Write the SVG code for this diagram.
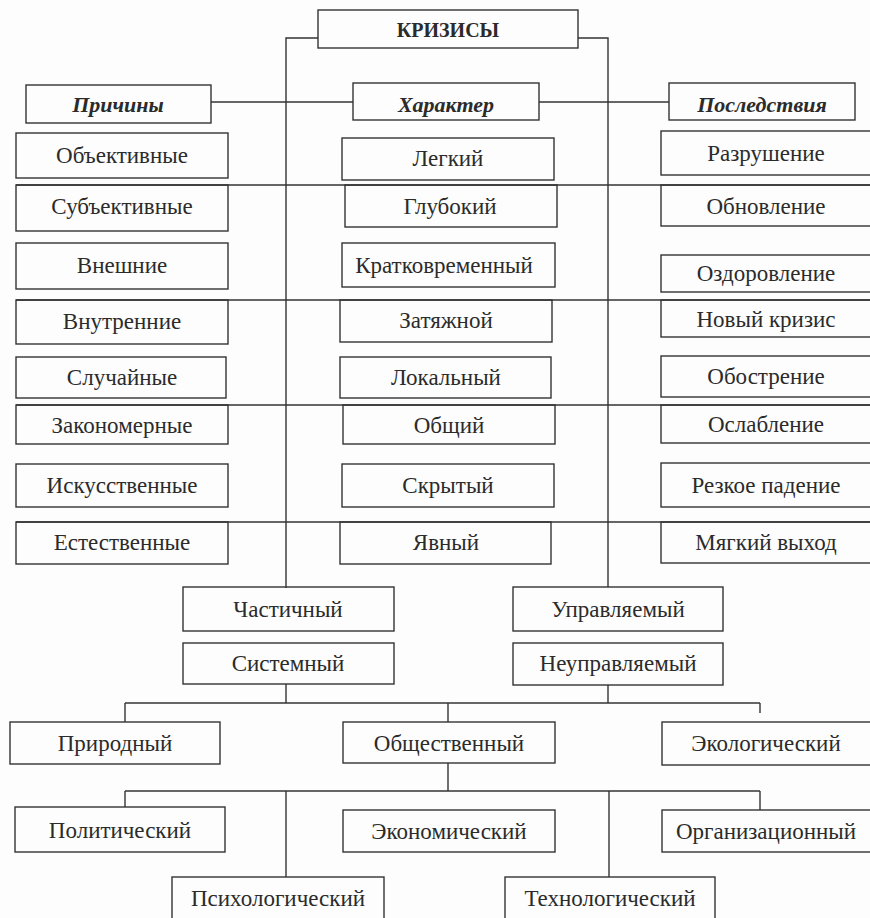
<svg xmlns="http://www.w3.org/2000/svg" width="870" height="918" viewBox="0 0 870 918">
<style>
.bg{fill:#fdfdfd}
.b{fill:none;stroke:#333;stroke-width:1.4}
.c path{fill:none;stroke:#333;stroke-width:1.4}
text{font-family:"Liberation Serif","Times New Roman",serif;fill:#2b2b2b;text-anchor:middle}
.t{font-size:23px}
.h{font-size:22px;font-weight:bold;font-style:italic}
.ttl{font-size:20px;font-weight:bold}
</style>
<rect class="bg" x="0" y="0" width="870" height="918"/>
<g id="connectors" class="c">
<path d="M318,38 H286 V588"/>
<path d="M578,38 H608 V587"/>
<path d="M211,102 H353"/>
<path d="M539,102 H669"/>
<path d="M16,185 H870"/>
<path d="M16,300 H870"/>
<path d="M16,405 H870"/>
<path d="M16,522 H870"/>
<path d="M286,684 V703"/>
<path d="M608,685 V703"/>
<path d="M125,703 H760"/>
<path d="M125,703 V722"/>
<path d="M448,703 V722"/>
<path d="M760,703 V713"/>
<path d="M448,763 V791"/>
<path d="M125,791 H760"/>
<path d="M125,791 V807"/>
<path d="M760,791 V810"/>
<path d="M286,791 V877"/>
<path d="M609,791 V877"/>
</g>
<g id="krizisy"><rect class="b" x="318" y="10" width="260" height="38"/><text class="ttl" x="448" y="37">КРИЗИСЫ</text></g>
<g id="prichiny"><rect class="b" x="26" y="85" width="185" height="38"/><text class="h" x="118" y="112">Причины</text></g>
<g id="harakter"><rect class="b" x="353" y="83" width="186" height="37"/><text class="h" x="446" y="112">Характер</text></g>
<g id="posledstviya"><rect class="b" x="669" y="83" width="186" height="37"/><text class="h" x="762" y="112">Последствия</text></g>

<g id="obektivnye"><rect class="b" x="16" y="133" width="212" height="45"/><text class="t" x="122" y="163">Объективные</text></g>
<g id="subektivnye"><rect class="b" x="16" y="185" width="212" height="46"/><text class="t" x="122" y="214">Субъективные</text></g>
<g id="vneshnie"><rect class="b" x="16" y="243" width="212" height="46"/><text class="t" x="122" y="273">Внешние</text></g>
<g id="vnutrennie"><rect class="b" x="16" y="300" width="212" height="44"/><text class="t" x="122" y="329">Внутренние</text></g>
<g id="sluchainye"><rect class="b" x="16" y="357" width="210" height="41"/><text class="t" x="122" y="385">Случайные</text></g>
<g id="zakonomernye"><rect class="b" x="16" y="405" width="212" height="39"/><text class="t" x="122" y="433">Закономерные</text></g>
<g id="iskusstvennye"><rect class="b" x="16" y="464" width="212" height="43"/><text class="t" x="122" y="493">Искусственные</text></g>
<g id="estestvennye"><rect class="b" x="16" y="522" width="212" height="42"/><text class="t" x="122" y="550">Естественные</text></g>

<g id="legkiy"><rect class="b" x="342" y="138" width="212" height="42"/><text class="t" x="448" y="166">Легкий</text></g>
<g id="glubokiy"><rect class="b" x="345" y="185" width="212" height="42"/><text class="t" x="450" y="214">Глубокий</text></g>
<g id="kratkovremennyi"><rect class="b" x="342" y="243" width="213" height="44"/><text class="t" x="444" y="273">Кратковременный</text></g>
<g id="zatyazhnoi"><rect class="b" x="340" y="300" width="212" height="42"/><text class="t" x="446" y="328">Затяжной</text></g>
<g id="lokalnyi"><rect class="b" x="340" y="357" width="211" height="41"/><text class="t" x="446" y="385">Локальный</text></g>
<g id="obshchiy"><rect class="b" x="343" y="405" width="212" height="39"/><text class="t" x="449" y="433">Общий</text></g>
<g id="skrytyi"><rect class="b" x="342" y="464" width="212" height="43"/><text class="t" x="448" y="493">Скрытый</text></g>
<g id="yavnyi"><rect class="b" x="340" y="522" width="211" height="42"/><text class="t" x="446" y="550">Явный</text></g>

<g id="razrushenie"><rect class="b" x="661" y="131" width="212" height="44"/><text class="t" x="766" y="161">Разрушение</text></g>
<g id="obnovlenie"><rect class="b" x="661" y="185" width="212" height="41"/><text class="t" x="766" y="214">Обновление</text></g>
<g id="ozdorovlenie"><rect class="b" x="661" y="255" width="212" height="37"/><text class="t" x="766" y="281">Оздоровление</text></g>
<g id="novyi-krizis"><rect class="b" x="661" y="300" width="212" height="37"/><text class="t" x="766" y="327">Новый кризис</text></g>
<g id="obostrenie"><rect class="b" x="661" y="356" width="212" height="41"/><text class="t" x="766" y="384">Обострение</text></g>
<g id="oslablenie"><rect class="b" x="661" y="405" width="212" height="38"/><text class="t" x="766" y="432">Ослабление</text></g>
<g id="rezkoe-padenie"><rect class="b" x="661" y="463" width="212" height="44"/><text class="t" x="766" y="493">Резкое падение</text></g>
<g id="myagkiy-vyhod"><rect class="b" x="661" y="522" width="212" height="41"/><text class="t" x="766" y="550">Мягкий выход</text></g>

<g id="chastichnyi"><rect class="b" x="183" y="587" width="211" height="44"/><text class="t" x="288" y="617">Частичный</text></g>
<g id="sistemnyi"><rect class="b" x="183" y="643" width="211" height="41"/><text class="t" x="288" y="671">Системный</text></g>
<g id="upravlyaemyi"><rect class="b" x="513" y="587" width="210" height="44"/><text class="t" x="618" y="617">Управляемый</text></g>
<g id="neupravlyaemyi"><rect class="b" x="513" y="643" width="210" height="42"/><text class="t" x="618" y="671">Неуправляемый</text></g>

<g id="prirodnyi"><rect class="b" x="10" y="722" width="210" height="42"/><text class="t" x="115" y="751">Природный</text></g>
<g id="obshchestvennyi"><rect class="b" x="343" y="722" width="212" height="41"/><text class="t" x="449" y="751">Общественный</text></g>
<g id="ekologicheskiy"><rect class="b" x="662" y="722" width="212" height="43"/><text class="t" x="766" y="751">Экологический</text></g>

<g id="politicheskiy"><rect class="b" x="15" y="807" width="210" height="45"/><text class="t" x="120" y="838">Политический</text></g>
<g id="ekonomicheskiy"><rect class="b" x="343" y="810" width="212" height="42"/><text class="t" x="449" y="839">Экономический</text></g>
<g id="organizatsionnyi"><rect class="b" x="662" y="810" width="212" height="42"/><text class="t" x="766" y="839">Организационный</text></g>

<g id="psihologicheskiy"><rect class="b" x="172" y="877" width="212" height="50"/><text class="t" x="278" y="906">Психологический</text></g>
<g id="tehnologicheskiy"><rect class="b" x="505" y="877" width="210" height="50"/><text class="t" x="610" y="906">Технологический</text></g>
</svg>
